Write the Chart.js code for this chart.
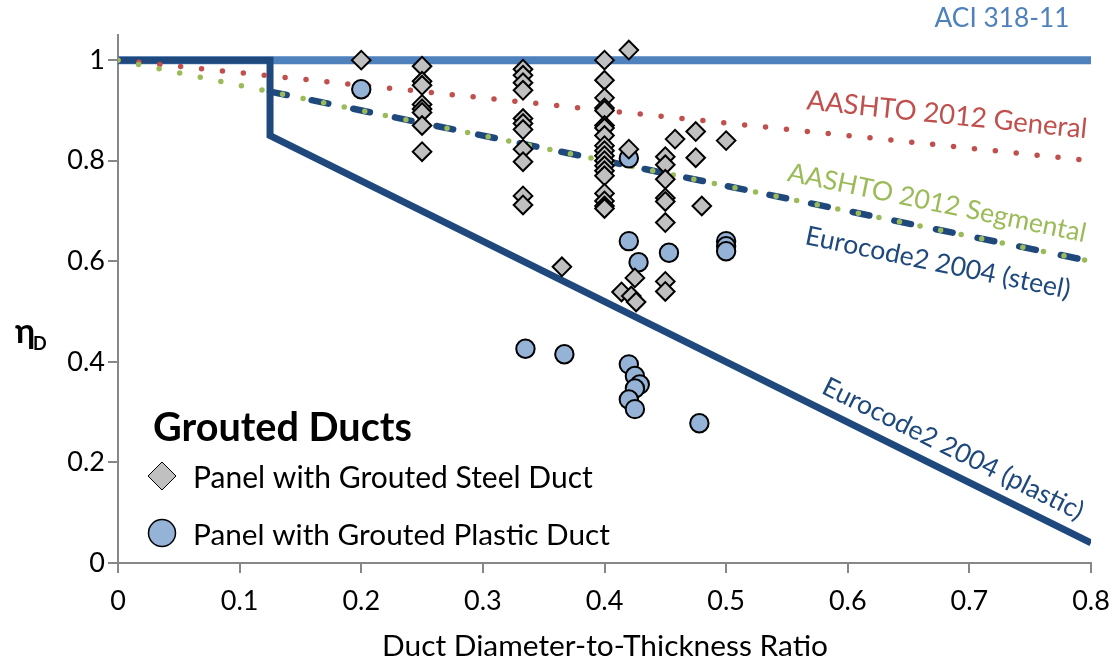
<!DOCTYPE html>
<html>
<head>
<meta charset="utf-8">
<script src="https://cdn.jsdelivr.net/npm/chart.js@4.4.0/dist/chart.umd.min.js"></script>
<style>
html,body{margin:0;padding:0;background:#fff;}
#wrap{position:relative;width:1115px;height:662px;}
</style>
</head>
<body>
<div id="wrap"><canvas id="c"></canvas></div>
<script>
// ---- data ----
const xTicks = [0, 0.1, 0.2, 0.3, 0.4, 0.5, 0.6, 0.7, 0.8];
const yTicks = [0, 0.2, 0.4, 0.6, 0.8, 1];

const steelX = [0.2,
  0.25, 0.25, 0.25, 0.25, 0.25, 0.25, 0.25, 0.25,
  0.333, 0.333, 0.333, 0.333, 0.333, 0.333, 0.333, 0.333, 0.333, 0.333, 0.333,
  0.4, 0.4, 0.4, 0.4, 0.4, 0.4, 0.4, 0.4, 0.4, 0.4, 0.4, 0.4, 0.4, 0.4, 0.4, 0.4, 0.4, 0.4, 0.4,
  0.42, 0.42, 0.458, 0.475, 0.475, 0.5,
  0.45, 0.45, 0.45, 0.45, 0.45, 0.45, 0.45, 0.45, 0.48,
  0.365, 0.425, 0.414, 0.422, 0.426];
const steelY = [1.0,
  0.988, 0.958, 0.950, 0.912, 0.903, 0.896, 0.870, 0.818,
  0.982, 0.970, 0.955, 0.940, 0.884, 0.874, 0.862, 0.823, 0.798, 0.730, 0.712,
  1.0, 0.960, 0.925, 0.905, 0.900, 0.870, 0.865, 0.850, 0.830, 0.820, 0.810, 0.800, 0.790, 0.780, 0.770, 0.735, 0.720, 0.710, 0.705,
  1.020, 0.823, 0.843, 0.858, 0.806, 0.840,
  0.808, 0.792, 0.763, 0.726, 0.719, 0.677, 0.560, 0.540, 0.710,
  0.589, 0.567, 0.539, 0.531, 0.519];

const plasticX = [0.2, 0.42, 0.42, 0.428, 0.453, 0.5, 0.5, 0.5,
  0.335, 0.367, 0.42, 0.425, 0.429, 0.425, 0.42, 0.425, 0.478];
const plasticY = [0.942, 0.805, 0.640, 0.598, 0.617, 0.640, 0.630, 0.620,
  0.426, 0.415, 0.395, 0.372, 0.355, 0.347, 0.325, 0.306, 0.278];

const aciX = [0, 0.8];            const aciY = [1, 1];
const aashtoGenX = [0, 0.8];      const aashtoGenY = [1, 0.8];
const aashtoSegX = [0, 0.8];      const aashtoSegY = [1, 0.6];
const ecSteelX = [0.125, 0.8];    const ecSteelY = [0.9375, 0.6];
const ecPlasticX = [0, 0.125, 0.125, 0.8]; const ecPlasticY = [1, 1, 0.85, 0.04];

const seriesNames = ['Panel with Grouted Steel Duct', 'Panel with Grouted Plastic Duct',
  'AASHTO 2012 Segmental', 'Eurocode2 2004 (steel)', 'AASHTO 2012 General',
  'Eurocode2 2004 (plastic)', 'ACI 318-11'];
const legendTitle = 'Grouted Ducts';
const xTitle = 'Duct Diameter-to-Thickness Ratio';
const yTitleMain = 'η';
const yTitleSub = 'D';

// ---- helpers ----
const pts = (xs, ys) => xs.map((x, i) => ({x: x, y: ys[i]}));
const fmt = v => String(Math.round(v * 10) / 10);
const FAMILY = 'Lato, "Open Sans", sans-serif';

function fitText(ctx, text, o) {
  ctx.save();
  const weight = o.weight || 'normal';
  const base = 30;
  ctx.font = weight + ' ' + base + 'px ' + FAMILY;
  const w = ctx.measureText(text).width;
  const size = o.width ? base * o.width / w : o.size;
  ctx.font = weight + ' ' + size + 'px ' + FAMILY;
  ctx.fillStyle = o.color || '#000';
  ctx.textAlign = o.align || 'center';
  ctx.textBaseline = o.baseline || 'middle';
  ctx.translate(o.x, o.y);
  ctx.rotate(o.angle || 0);
  ctx.fillText(text, 0, 0);
  ctx.restore();
}

function lineAngle(chart, xs, ys) {
  const sx = chart.scales.x, sy = chart.scales.y;
  const n = xs.length;
  const dx = sx.getPixelForValue(xs[n - 1]) - sx.getPixelForValue(xs[n - 2]);
  const dy = sy.getPixelForValue(ys[n - 1]) - sy.getPixelForValue(ys[n - 2]);
  return Math.atan2(dy, dx);
}

const textPlugin = {
  id: 'texts',
  afterDraw(chart) {
    const ctx = chart.ctx;
    // line labels
    fitText(ctx, seriesNames[6], {x: 1002, y: 19, width: 135, color: '#4F81BD'});
    fitText(ctx, seriesNames[4], {x: 947, y: 115, width: 282, color: '#C0504D',
      angle: lineAngle(chart, aashtoGenX, aashtoGenY)});
    fitText(ctx, seriesNames[2], {x: 937, y: 203, width: 304, color: '#9BBB59',
      angle: lineAngle(chart, aashtoSegX, aashtoSegY)});
    fitText(ctx, seriesNames[3], {x: 938, y: 263, width: 270, color: '#1F497D',
      angle: lineAngle(chart, ecSteelX, ecSteelY)});
    fitText(ctx, seriesNames[5], {x: 953, y: 449, width: 288, color: '#1F497D',
      angle: lineAngle(chart, ecPlasticX, ecPlasticY)});

    // legend
    fitText(ctx, legendTitle, {x: 153, y: 441, width: 259, weight: 'bold',
      align: 'left', baseline: 'alphabetic'});
    ctx.save();
    ctx.beginPath();
    ctx.moveTo(162 - 14, 476); ctx.lineTo(162, 476 - 14);
    ctx.lineTo(162 + 14, 476); ctx.lineTo(162, 476 + 14); ctx.closePath();
    ctx.fillStyle = '#C0C0C0'; ctx.fill();
    ctx.lineWidth = 1; ctx.strokeStyle = '#000'; ctx.stroke();
    ctx.beginPath();
    ctx.arc(162, 533, 13.5, 0, Math.PI * 2);
    ctx.fillStyle = '#95B3D7'; ctx.fill();
    ctx.lineWidth = 1.5; ctx.stroke();
    ctx.restore();
    fitText(ctx, seriesNames[0], {x: 193, y: 488, width: 400, align: 'left', baseline: 'alphabetic'});
    fitText(ctx, seriesNames[1], {x: 193, y: 545, width: 417, align: 'left', baseline: 'alphabetic'});

    // axis titles
    fitText(ctx, xTitle, {x: 605, y: 656, width: 446, align: 'center', baseline: 'alphabetic'});
    fitText(ctx, yTitleMain, {x: 15, y: 343, size: 34, weight: 'bold', align: 'left', baseline: 'alphabetic'});
    fitText(ctx, yTitleSub, {x: 33, y: 350, size: 18, weight: 'bold', align: 'left', baseline: 'alphabetic'});
  }
};

const lineDs = (name, xs, ys, color, width, dash, cap) => ({
  label: name, data: pts(xs, ys), showLine: true, borderColor: color,
  backgroundColor: color, borderWidth: width, borderDash: dash,
  borderCapStyle: cap, borderJoinStyle: 'miter', pointRadius: 0, fill: false, tension: 0
});

new Chart(document.getElementById('c'), {
  type: 'scatter',
  data: {
    datasets: [
      {label: seriesNames[0], data: pts(steelX, steelY), pointStyle: 'rectRot',
        pointRadius: 9.3, backgroundColor: '#C0C0C0', borderColor: '#000', borderWidth: 2},
      {label: seriesNames[1], data: pts(plasticX, plasticY), pointStyle: 'circle',
        pointRadius: 9.2, backgroundColor: '#95B3D7', borderColor: '#000', borderWidth: 2},
      lineDs(seriesNames[2], aashtoSegX, aashtoSegY, '#9BBB59', 5.5, [0, 21], 'round'),
      lineDs(seriesNames[3], ecSteelX, ecSteelY, '#1F497D', 6.5, [17, 25.5], 'round'),
      lineDs(seriesNames[4], aashtoGenX, aashtoGenY, '#C0504D', 5.5, [0, 21], 'round'),
      lineDs(seriesNames[5], ecPlasticX, ecPlasticY, '#1F497D', 7, [], 'butt'),
      lineDs(seriesNames[6], aciX, aciY, '#4F81BD', 8, [], 'butt')
    ]
  },
  options: {
    responsive: true,
    maintainAspectRatio: false,
    animation: false,
    events: [],
    layout: {padding: {left: 0, top: 35, right: 24, bottom: 0}},
    plugins: {legend: {display: false}, tooltip: {enabled: false}},
    scales: {
      x: {
        type: 'linear', min: 0, max: 0.8,
        afterBuildTicks: s => { s.ticks = xTicks.map(v => ({value: v})); },
        afterFit: s => { s.height = 99; s.paddingLeft = 0; s.paddingRight = 0; },
        ticks: {font: {family: FAMILY, size: 27}, color: '#000', padding: 12,
          maxRotation: 0, autoSkip: false, callback: v => fmt(v)},
        grid: {drawOnChartArea: false, drawTicks: true, tickLength: 10, color: '#878787', lineWidth: 2},
        border: {display: true, color: '#878787', width: 2}
      },
      y: {
        type: 'linear', min: 0, max: 1.05,
        afterBuildTicks: s => { s.ticks = yTicks.map(v => ({value: v})); },
        afterFit: s => { s.width = 118; s.paddingTop = 0; s.paddingBottom = 0; },
        ticks: {font: {family: FAMILY, size: 27}, color: '#000', padding: 3,
          autoSkip: false, callback: v => fmt(v)},
        grid: {drawOnChartArea: false, drawTicks: true, tickLength: 10, color: '#878787', lineWidth: 2},
        border: {display: true, color: '#878787', width: 2}
      }
    }
  },
  plugins: [textPlugin]
});
</script>
</body>
</html>
